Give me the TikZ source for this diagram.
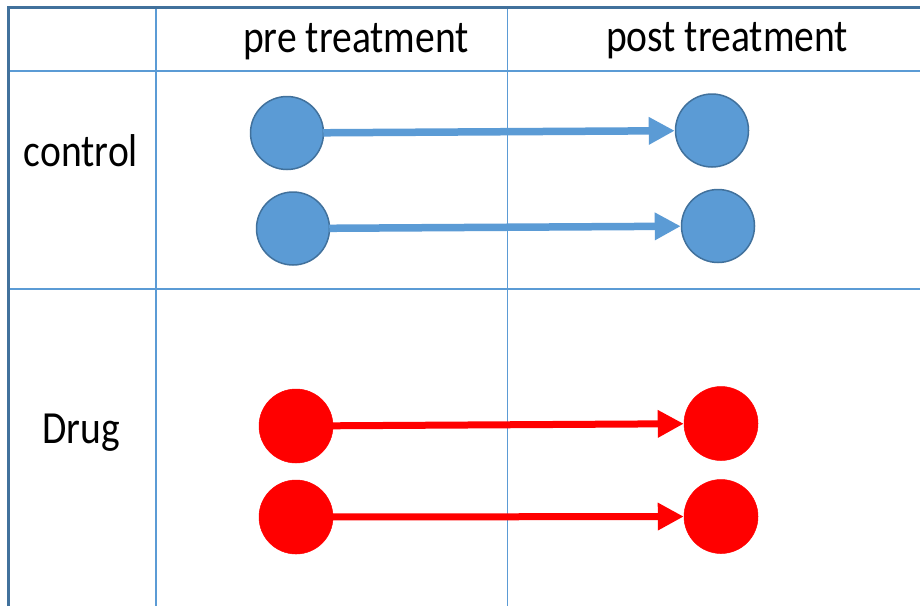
\documentclass[tikz,border=0pt]{standalone}
\usepackage{fontspec}
\setmainfont[FakeStretch=0.86]{Carlito}
\usetikzlibrary{arrows.meta}
\definecolor{gridblue}{HTML}{5B9BD5}
\definecolor{edgeblue}{HTML}{41719C}
\definecolor{dotred}{HTML}{FF0000}
\tikzset{
  x=1pt, y=-1pt,
  outer/.style={draw=edgeblue, line width=3pt},
  inner/.style={draw=gridblue, line width=2pt},
  thin/.style={draw=gridblue, line width=1pt},
  label/.style={font=\fontsize{46}{48}\selectfont, inner sep=0pt},
  bluedot/.style={circle, fill=gridblue, draw=edgeblue, line width=1.5pt, minimum size=73pt, inner sep=0pt},
  reddot/.style={circle, fill=dotred, draw=dotred, line width=0.5pt, minimum size=74pt, inner sep=0pt},
  bluearrow/.style={draw=gridblue, line width=7.5pt, -{Triangle[length=26pt,width=26pt]}, shorten <=-1pt},
  redarrow/.style={draw=dotred, line width=7pt, -{Triangle[length=26pt,width=26pt]}, shorten <=-1pt},
}
\begin{document}
\begin{tikzpicture}
\useasboundingbox (0,0) rectangle (920,606);
\fill[white] (0,0) rectangle (920,606);

% table rules
\draw[inner] (9,71) -- (920,71);
\draw[inner] (9,289) -- (920,289);
\draw[inner] (156,7) -- (156,606);
\draw[thin] (507,7) -- (507,606);
\draw[outer] (8.5,606) -- (8.5,7.5) -- (920,7.5);

% headers
\node[label] (pre) at (356,42) {pre treatment};
\node[label] (post) at (727,41) {post treatment};
\node[label] (ctl) at (81,151) {control};
\node[label] (drug) at (81,433) {Drug};

% control group
\node[bluedot] (c1a) at (287,133) {};
\node[bluedot] (c1b) at (712,130.5) {};
\node[bluedot] (c2a) at (293,228.5) {};
\node[bluedot] (c2b) at (718,226) {};
\draw[bluearrow] (c1a) -- (c1b);
\draw[bluearrow] (c2a) -- (c2b);

% drug group
\node[reddot] (d1a) at (296,426) {};
\node[reddot] (d1b) at (721,423.5) {};
\node[reddot] (d2a) at (296,517) {};
\node[reddot] (d2b) at (721,516.5) {};
\draw[redarrow] (d1a) -- (d1b);
\draw[redarrow] (d2a) -- (d2b);
\end{tikzpicture}
\end{document}
